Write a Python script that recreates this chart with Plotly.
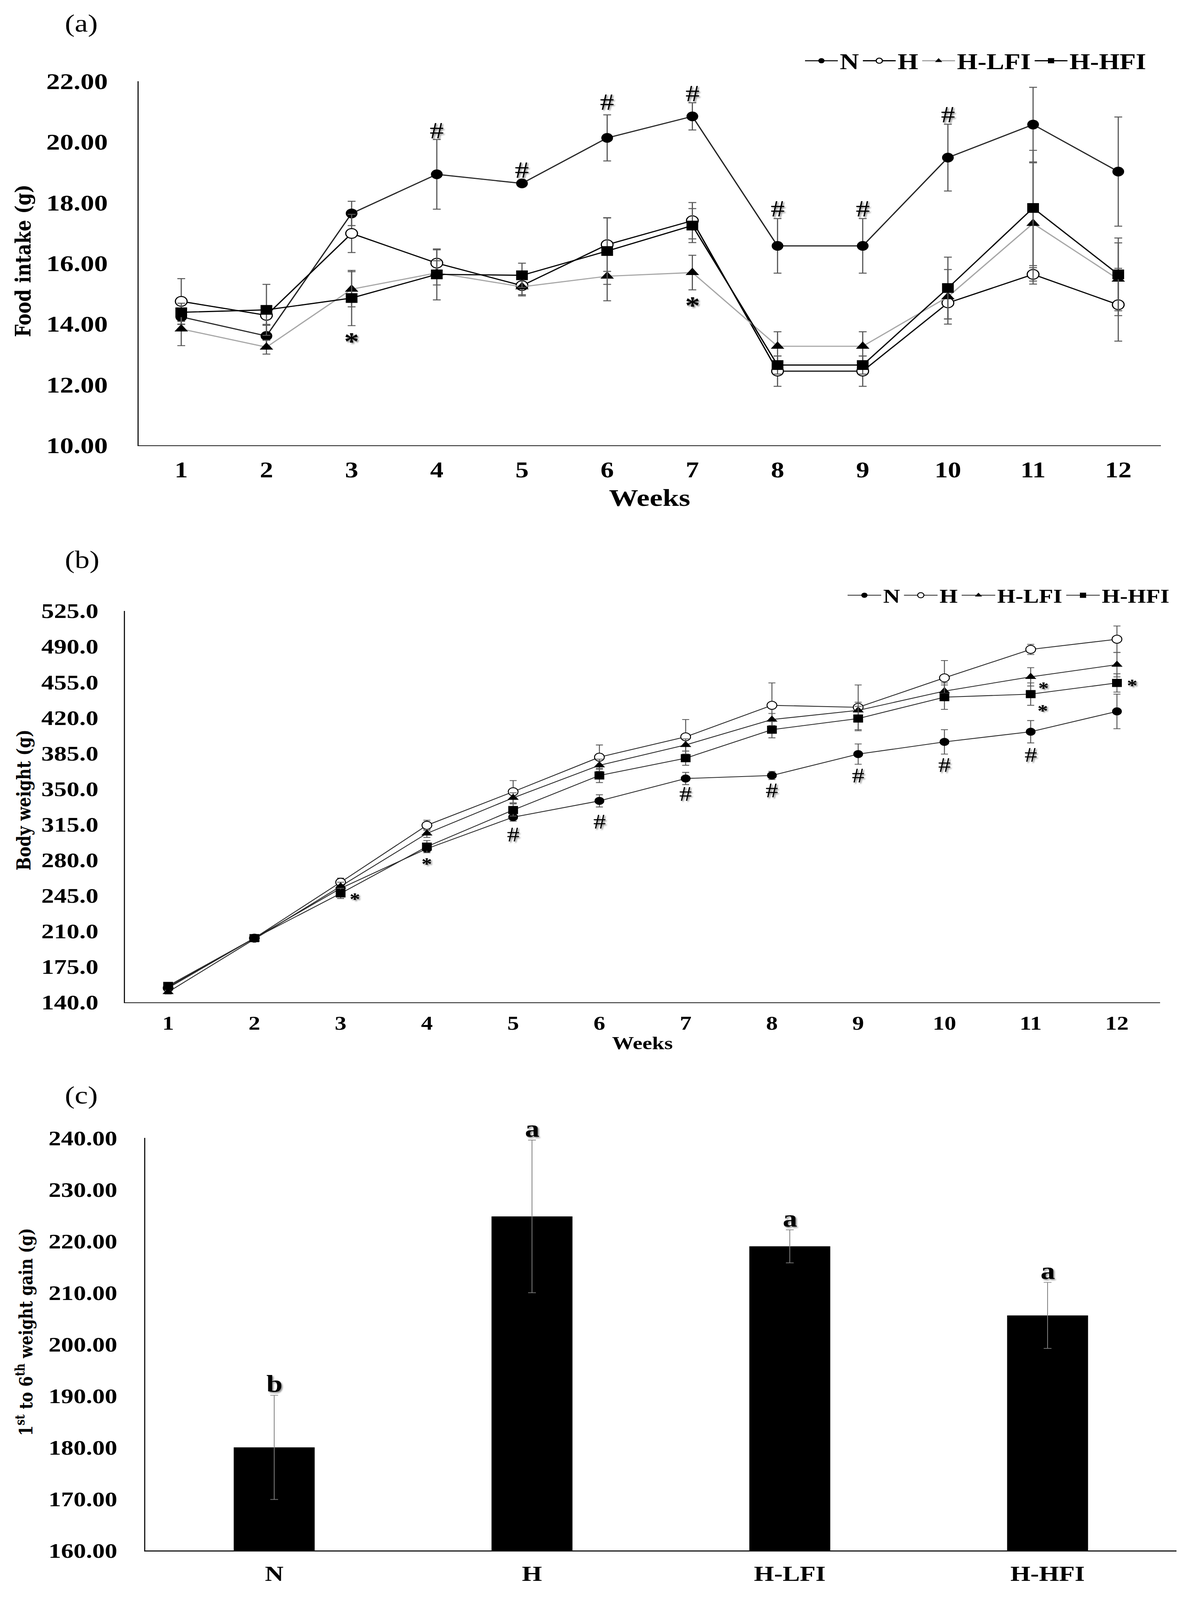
import plotly.graph_objects as go

W, H = 3021, 4946

# ---------------- data ----------------
weeks = ["1", "2", "3", "4", "5", "6", "7", "8", "9", "10", "11", "12"]
series_names = ["N", "H", "H-LFI", "H-HFI"]

# (a) food intake (g)
fi_N = [14.23, 13.60, 17.64, 18.93, 18.63, 20.13, 20.84, 16.57, 16.57, 19.48, 20.57, 19.02]
fi_H = [14.74, 14.28, 16.98, 16.00, 15.26, 16.61, 17.40, 12.44, 12.44, 14.69, 15.63, 14.63]
fi_LFI = [13.83, 13.23, 15.14, 15.68, 15.22, 15.57, 15.69, 13.26, 13.26, 14.89, 17.31, 15.47]
fi_HFI = [14.38, 14.46, 14.85, 15.63, 15.60, 16.40, 17.24, 12.64, 12.64, 15.18, 17.82, 15.63]
fi_err_N = [0.25, 0.35, 0.40, 1.15, 0.10, 0.76, 0.45, 0.90, 0.90, 1.10, 1.23, 1.80]
fi_err_H = [0.75, 0.30, 0.63, 0.44, 0.30, 0.88, 0.60, 0.50, 0.50, 0.53, 0.22, 1.20]
fi_err_LFI = [0.55, 0.23, 0.58, 0.40, 0.30, 0.81, 0.57, 0.48, 0.48, 0.90, 2.00, 1.20]
fi_err_HFI = [0.30, 0.84, 0.91, 0.84, 0.40, 1.10, 0.56, 0.30, 0.30, 1.02, 1.90, 1.20]

# (b) body weight (g)
bw_N = [155, 203, 252, 291, 322, 338, 360, 363, 384, 396, 406, 426]
bw_H = [154, 203, 258, 314, 347, 381, 401, 432, 430, 459, 487, 497]
bw_LFI = [150, 202, 254, 306, 341, 373, 393, 418, 427, 446, 460, 472]
bw_HFI = [156, 203, 247, 293, 329, 363, 380, 408, 419, 440, 443, 454]
bw_err_N = [2, 2, 3, 3, 4, 6, 6, 4, 10, 12, 11, 17]
bw_err_H = [3, 3, 4, 5, 11, 12, 17, 22, 22, 17, 5, 13]
bw_err_LFI = [2, 2, 4, 4, 5, 6, 6, 6, 8, 8, 9, 12]
bw_err_HFI = [3, 2, 5, 6, 6, 7, 7, 8, 12, 12, 11, 9]

# (c) 1st to 6th week weight gain (g)
groups = ["N", "H", "H-LFI", "H-HFI"]
gain = [180.0, 224.8, 219.0, 205.6]
gain_err = [10.1, 14.8, 3.2, 6.4]
gain_letters = ["b", "a", "a", "a"]

# significance marks
hash_a_weeks = ["4", "5", "6", "7", "8", "9", "10"]
hash_a_y = [20.37, 19.08, 21.32, 21.60, 17.80, 17.80, 20.90]
star_a_weeks = ["3", "7"]
star_a_y = [13.54, 14.73]

hash_b_weeks = ["5", "6", "7", "8", "9", "10", "11"]
hash_b_y = [305, 317.6, 345, 348.4, 363, 373.3, 383.4]
star_b_weeks = ["3", "4", "11", "11", "12"]
star_b_y = [244, 278.7, 451.5, 429.5, 454.4]
star_b_dx = [36, 0, 33, 31, 39]

# ---------------- helpers ----------------
def fx(px):
    return px / W

def fy(py):
    return 1 - py / H

def wk_pos(wk):
    # position of a week on the category axis
    return weeks.index(wk)

SERIF = "Liberation Serif"
WIDE = "DejaVu Serif"

fig = go.Figure()

# ---------------- panel (a) ----------------
a_styles = [
    dict(symbol="circle", color="black", lw=0, line="#262626"),
    dict(symbol="circle", color="white", lw=3, line="#000000"),
    dict(symbol="triangle-up", color="black", lw=0, line="#a6a6a6"),
    dict(symbol="square", color="black", lw=0, line="#000000"),
]
a_vals = [fi_N, fi_H, fi_LFI, fi_HFI]
a_errs = [fi_err_N, fi_err_H, fi_err_LFI, fi_err_HFI]
for name, vals, errs, st in zip(series_names, a_vals, a_errs, a_styles):
    fig.add_trace(go.Scatter(
        x=weeks, y=vals, name=name, mode="lines+markers",
        line=dict(color=st["line"], width=3.5),
        marker=dict(symbol=st["symbol"], size=30, color=st["color"],
                    line=dict(color="black", width=st["lw"])),
        error_y=dict(type="data", array=errs, color="#595959", thickness=3, width=10),
        xaxis="x", yaxis="y", legend="legend", cliponaxis=False,
    ))

# ---------------- panel (b) ----------------
b_styles = [
    dict(symbol="circle", color="black", lw=0),
    dict(symbol="circle", color="white", lw=2.5),
    dict(symbol="triangle-up", color="black", lw=0),
    dict(symbol="square", color="black", lw=0),
]
b_vals = [bw_N, bw_H, bw_LFI, bw_HFI]
b_errs = [bw_err_N, bw_err_H, bw_err_LFI, bw_err_HFI]
for name, vals, errs, st in zip(series_names, b_vals, b_errs, b_styles):
    fig.add_trace(go.Scatter(
        x=weeks, y=vals, name=name, mode="lines+markers",
        line=dict(color="#262626", width=2.5),
        marker=dict(symbol=st["symbol"], size=25, color=st["color"],
                    line=dict(color="black", width=st["lw"])),
        error_y=dict(type="data", array=errs, color="#595959", thickness=2.5, width=9),
        xaxis="x2", yaxis="y2", legend="legend2", cliponaxis=False,
    ))

# ---------------- panel (c) ----------------
fig.add_trace(go.Bar(
    x=groups, y=gain, width=0.314, marker=dict(color="black", line=dict(width=0)),
    error_y=dict(type="data", array=gain_err, color="#7f7f7f", thickness=2, width=10),
    xaxis="x3", yaxis="y3", showlegend=False,
))

# ---------------- axes ----------------
def xax(domain, anchor, rng, fsize, standoff):
    return dict(domain=domain, anchor=anchor, type="category", range=rng,
                showline=True, linecolor="#1a1a1a", linewidth=3, ticks="",
                showgrid=False, zeroline=False, ticklabelstandoff=standoff,
                automargin=False,
                tickfont=dict(family=SERIF, size=fsize, color="black", weight="bold"))

def yax(domain, anchor, rng, dtick, fmt, fsize, standoff):
    return dict(domain=domain, anchor=anchor, range=rng, dtick=dtick, tick0=rng[0],
                tickformat=fmt, showline=True, linecolor="#1a1a1a", linewidth=3,
                ticks="", showgrid=False, zeroline=False, ticklabelstandoff=standoff,
                automargin=False,
                tickfont=dict(family=SERIF, size=fsize, color="black", weight="bold"))

fig.update_layout(
    xaxis=xax([fx(355), fx(2972)], "y", [-0.5, 11.5], 68, 15),
    yaxis=yax([fy(1376), fy(251)], "x", [10, 22], 2, ".2f", 70, 62),
    xaxis2=xax([fx(320), fx(2970)], "y2", [-0.5, 11.5], 60, 10),
    yaxis2=yax([fy(3098), fy(1888)], "x2", [140, 525], 35, ".1f", 65, 52),
    xaxis3=xax([fx(372), fx(3012)], "y3", [-0.5, 3.5], 66, 12),
    yaxis3=yax([fy(4793), fy(3518)], "x3", [160, 240], 10, ".2f", 64, 56),
)

# ---------------- legends ----------------
fig.update_layout(
    legend=dict(orientation="h", x=fx(2940), xanchor="right", y=fy(188), yanchor="middle",
                font=dict(family=SERIF, size=68, color="black", weight="bold"),
                bgcolor="rgba(0,0,0,0)", traceorder="normal", itemwidth=84),
    legend2=dict(orientation="h", x=fx(3000), xanchor="right", y=fy(1840), yanchor="middle",
                 font=dict(family=SERIF, size=60, color="black", weight="bold"),
                 bgcolor="rgba(0,0,0,0)", traceorder="normal", itemwidth=86),
)

# ---------------- annotations ----------------
ann = []
SHADOW = "3px 3px 4px rgba(0,0,0,0.45)"

def paper_text(text, x, y, size, family=SERIF, weight="normal", angle=0):
    return dict(text=text, x=fx(x), y=fy(y), xref="paper", yref="paper",
                showarrow=False, textangle=angle, xanchor="center", yanchor="middle",
                font=dict(family=family, size=size, color="black", weight=weight))

# panel labels
ann.append(paper_text("(a)", 208, 72, 76))
ann.append(paper_text("(b)", 210, 1730, 76))
ann.append(paper_text("(c)", 208, 3385, 76))
# axis titles
ann.append(paper_text("Weeks", 1663, 1538, 75, weight="bold"))
ann.append(paper_text("Weeks", 1645, 3225, 56, weight="bold"))
ann.append(paper_text("Food intake (g)", 58, 806, 55, family=WIDE, weight="bold", angle=-90))
ann.append(paper_text("Body weight (g)", 61, 2473, 49, family=WIDE, weight="bold", angle=-90))
ann.append(paper_text("1<sup>st</sup> to 6<sup>th</sup> weight gain (g)", 63, 4118, 47,
                      family=WIDE, weight="bold", angle=-90))

for wk, yv in zip(hash_a_weeks, hash_a_y):
    ann.append(dict(text="#", x=wk_pos(wk), y=yv, xref="x", yref="y", showarrow=False,
                    font=dict(family=SERIF, size=72, color="black", shadow=SHADOW)))
for wk, yv in zip(star_a_weeks, star_a_y):
    ann.append(dict(text="*", x=wk_pos(wk), y=yv, xref="x", yref="y", showarrow=False, yshift=-11,
                    font=dict(family=SERIF, size=76, color="black", weight="bold", shadow=SHADOW)))
for wk, yv in zip(hash_b_weeks, hash_b_y):
    ann.append(dict(text="#", x=wk_pos(wk), y=yv, xref="x2", yref="y2", showarrow=False,
                    font=dict(family=SERIF, size=64, color="black", shadow=SHADOW)))
for wk, yv, dx in zip(star_b_weeks, star_b_y, star_b_dx):
    ann.append(dict(text="*", x=wk_pos(wk), y=yv, xref="x2", yref="y2", showarrow=False,
                    xshift=dx, yshift=-8, borderpad=0,
                    font=dict(family=SERIF, size=54, color="black", weight="bold", shadow=SHADOW)))
for i, (v, e, lt) in enumerate(zip(gain, gain_err, gain_letters)):
    ann.append(dict(text=lt, x=i, y=v + e, xref="x3", yref="y3", showarrow=False,
                    yanchor="bottom", yshift=-8,
                    font=dict(family=SERIF, size=74, color="black", weight="bold", shadow=SHADOW)))

fig.update_layout(
    annotations=ann,
    width=W, height=H, autosize=False,
    margin=dict(l=0, r=0, t=0, b=0, pad=0),
    paper_bgcolor="white", plot_bgcolor="white",
    font=dict(family=SERIF, color="black"),
)

# Fit the fixed 3021x4946 figure into the browser viewport (no-op when they match).
post = (
    "var gd=document.getElementById('{plot_id}');"
    "var de=document.documentElement, bd=document.body;"
    "de.style.margin='0';de.style.padding='0';de.style.overflow='hidden';"
    "bd.style.margin='0';bd.style.padding='0';bd.style.overflow='hidden';"
    "function fitFig(){var sx=window.innerWidth/" + str(W) + ", sy=window.innerHeight/" + str(H) + ";"
    "gd.style.transformOrigin='0 0';gd.style.transform='scale('+sx+','+sy+')';}"
    "fitFig();window.addEventListener('resize', fitFig);"
)

fig.write_html("out.html", config={"displayModeBar": False}, post_script=post)
